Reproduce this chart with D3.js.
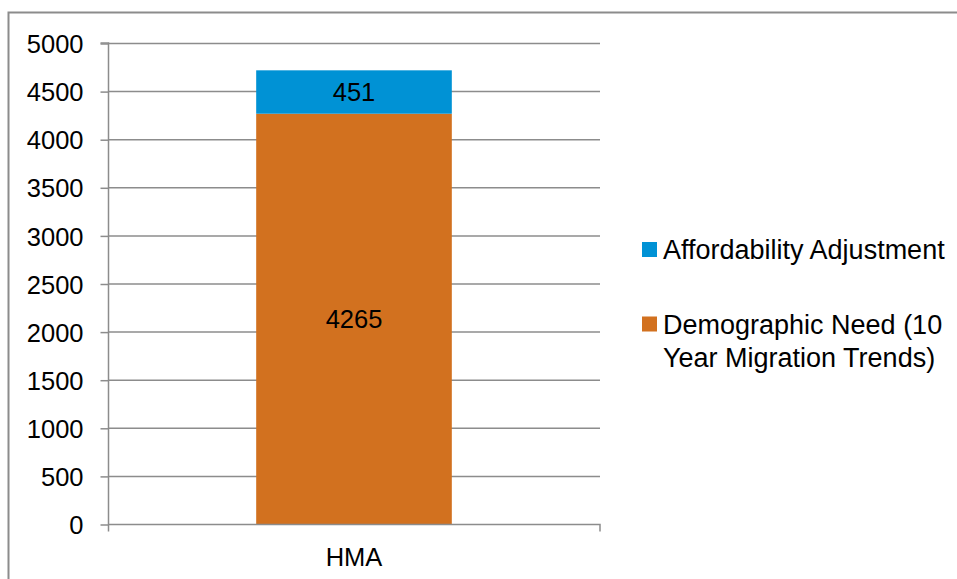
<!DOCTYPE html>
<html>
<head>
<meta charset="utf-8">
<script src="https://cdn.jsdelivr.net/npm/d3@7"></script>
<style>
  body { margin: 0; background: #fff; }
  svg { display: block; font-family: "Liberation Sans", Arial, sans-serif; }
</style>
</head>
<body>
<svg width="957" height="579"></svg>
<script>
// chart data
var categories = ["HMA"];
var seriesNames = ["Demographic Need (10 Year Migration Trends)", "Affordability Adjustment"];
var demographicNeed = [4265];
var affordabilityAdj = [451];
var yTicks = [0, 500, 1000, 1500, 2000, 2500, 3000, 3500, 4000, 4500, 5000];
var colors = ["#d2711f", "#0092d5"];

var svg = d3.select("svg"),
    width = +svg.attr("width"),
    height = +svg.attr("height");

// outer frame (runs off the right and bottom of the picture)
svg.append("rect")
  .attr("x", 8.5).attr("y", 12.5)
  .attr("width", 980).attr("height", 600)
  .attr("fill", "none")
  .attr("stroke", "#8c8c8c")
  .attr("stroke-width", 2);

var plot = {left: 108, right: 600, top: 43, bottom: 524};

var x = d3.scaleBand()
  .domain(categories)
  .range([plot.left, plot.right])
  .paddingInner(0.6)
  .paddingOuter(0.303);

var y = d3.scaleLinear()
  .domain([0, 5000])
  .range([plot.bottom, plot.top]);

// gridlines
svg.append("g")
  .selectAll("line")
  .data(yTicks.filter(function(d){ return d > 0; }))
  .enter().append("line")
    .attr("x1", plot.left).attr("x2", plot.right)
    .attr("y1", function(d){ return y(d) + 0.5; })
    .attr("y2", function(d){ return y(d) + 0.5; })
    .attr("stroke", "#8c8c8c")
    .attr("stroke-width", 1.5);

// stacked bars
var stackData = categories.map(function(c, i){
  return {cat: c, demo: demographicNeed[i], afford: affordabilityAdj[i]};
});
var stack = d3.stack().keys(["demo", "afford"]);
var layers = stack(stackData);

var layerG = svg.append("g").selectAll("g")
  .data(layers)
  .enter().append("g")
    .attr("fill", function(d, i){ return colors[i]; });

layerG.selectAll("rect")
  .data(function(d){ return d; })
  .enter().append("rect")
    .attr("x", function(d){ return x(d.data.cat); })
    .attr("width", x.bandwidth())
    .attr("y", function(d){ return y(d[1]); })
    .attr("height", function(d){ return y(d[0]) - y(d[1]); });

layerG.selectAll("text")
  .data(function(d){ return d; })
  .enter().append("text")
    .attr("x", function(d){ return x(d.data.cat) + x.bandwidth() / 2; })
    .attr("y", function(d){ return (y(d[0]) + y(d[1])) / 2; })
    .attr("dy", "0.36em")
    .attr("text-anchor", "middle")
    .attr("fill", "#000")
    .style("font-size", "25.5px")
    .text(function(d){ return d[1] - d[0]; });

// y axis
var yAxis = d3.axisLeft(y).tickValues(yTicks).tickSize(8).tickPadding(17).tickFormat(d3.format("d"));
var yg = svg.append("g")
  .attr("transform", "translate(" + (plot.left + 0.5) + ",0.5)")
  .call(yAxis);
yg.select(".domain").attr("stroke", "#8c8c8c").attr("stroke-width", 1.5)
  .attr("d", "M-8," + (plot.top - 0.5) + "H0V" + (plot.bottom + 7));
yg.selectAll(".tick line").attr("stroke", "#8c8c8c").attr("stroke-width", 1.5);
yg.selectAll(".tick text").attr("fill", "#000").style("font-size", "25.5px")
  .attr("dy", "0.36em");
yg.attr("font-family", null).attr("font-size", null);

// x axis
var xAxis = d3.axisBottom(x).tickSize(0).tickPadding(23);
var xg = svg.append("g")
  .attr("transform", "translate(0," + (plot.bottom + 0.5) + ")")
  .call(xAxis);
xg.select(".domain").attr("stroke", "#8c8c8c").attr("stroke-width", 1.5)
  .attr("d", "M" + plot.left + ",0H" + plot.right + "V7");
xg.selectAll(".tick text").attr("fill", "#000").style("font-size", "25.5px").attr("dy", "0.71em");
xg.attr("font-family", null).attr("font-size", null);

// legend
var legendItems = [
  {name: seriesNames[1], color: colors[1], lines: ["Affordability Adjustment"], y: 250},
  {name: seriesNames[0], color: colors[0], lines: ["Demographic Need (10", "Year Migration Trends)"], y: 324.5}
];

var legend = svg.selectAll(".legend")
  .data(legendItems)
  .enter().append("g")
    .attr("class", "legend")
    .attr("transform", function(d){ return "translate(642," + d.y + ")"; });

legend.append("rect")
  .attr("x", 0).attr("y", -8)
  .attr("width", 15).attr("height", 15)
  .attr("fill", function(d){ return d.color; });

legend.append("text")
  .attr("x", 21)
  .attr("y", 9)
  .style("font-size", "27px")
  .attr("fill", "#000")
  .selectAll("tspan")
  .data(function(d){ return d.lines; })
  .enter().append("tspan")
    .attr("x", 21)
    .attr("dy", function(d, i){ return i === 0 ? 0 : 33; })
    .text(function(d){ return d; });
</script>
</body>
</html>
